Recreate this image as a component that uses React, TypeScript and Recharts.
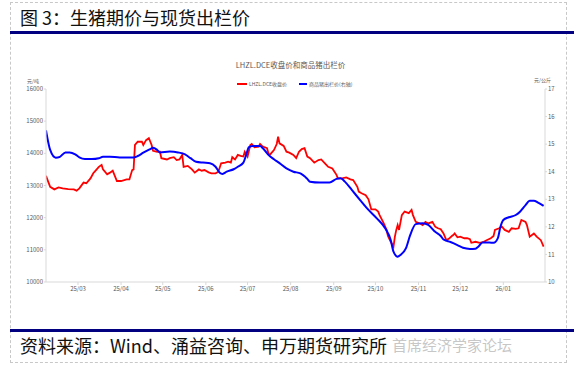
import { LineChart, Line, XAxis, YAxis } from 'recharts';

const FONT = '"Noto Sans CJK SC", "Noto Sans", sans-serif';

// LHZL.DCE close (yuan/ton)
const futDates = [
  '2025-02-06', '2025-02-09', '2025-02-12', '2025-02-15', '2025-02-18', '2025-02-22', '2025-02-26', '2025-02-28',
  '2025-03-02', '2025-03-05', '2025-03-07', '2025-03-10', '2025-03-12', '2025-03-14', '2025-03-16', '2025-03-18',
  '2025-03-19', '2025-03-22', '2025-03-24', '2025-03-26', '2025-03-29', '2025-04-01', '2025-04-05', '2025-04-07',
  '2025-04-09', '2025-04-10', '2025-04-11', '2025-04-13', '2025-04-16', '2025-04-17', '2025-04-19', '2025-04-21',
  '2025-04-23', '2025-04-24', '2025-04-27', '2025-04-29', '2025-04-30', '2025-05-04', '2025-05-06', '2025-05-09',
  '2025-05-11', '2025-05-13', '2025-05-15', '2025-05-16', '2025-05-19', '2025-05-22', '2025-05-24', '2025-05-27',
  '2025-05-29', '2025-05-31', '2025-06-03', '2025-06-05', '2025-06-08', '2025-06-10', '2025-06-12', '2025-06-15',
  '2025-06-17', '2025-06-19', '2025-06-20', '2025-06-22', '2025-06-24', '2025-06-26', '2025-06-28', '2025-06-29',
  '2025-07-01', '2025-07-03', '2025-07-04', '2025-07-06', '2025-07-09', '2025-07-10', '2025-07-12', '2025-07-15',
  '2025-07-16', '2025-07-17', '2025-07-20', '2025-07-22', '2025-07-23', '2025-07-24', '2025-07-27', '2025-07-29',
  '2025-07-31', '2025-08-03', '2025-08-05', '2025-08-07', '2025-08-09', '2025-08-11', '2025-08-13', '2025-08-15',
  '2025-08-18', '2025-08-21', '2025-08-23', '2025-08-26', '2025-08-28', '2025-08-31', '2025-09-03', '2025-09-04',
  '2025-09-07', '2025-09-10', '2025-09-13', '2025-09-15', '2025-09-18', '2025-09-19', '2025-09-21', '2025-09-24',
  '2025-09-26', '2025-09-28', '2025-10-01', '2025-10-03', '2025-10-04', '2025-10-07', '2025-10-09', '2025-10-10',
  '2025-10-12', '2025-10-14', '2025-10-15', '2025-10-16', '2025-10-17', '2025-10-18', '2025-10-20', '2025-10-22',
  '2025-10-25', '2025-10-27', '2025-10-28', '2025-10-30', '2025-11-02', '2025-11-04', '2025-11-06', '2025-11-08',
  '2025-11-11', '2025-11-13', '2025-11-15', '2025-11-17', '2025-11-19', '2025-11-21', '2025-11-23', '2025-11-25',
  '2025-11-26', '2025-11-27', '2025-11-29', '2025-12-01', '2025-12-04', '2025-12-06', '2025-12-08', '2025-12-09',
  '2025-12-12', '2025-12-15', '2025-12-18', '2025-12-20', '2025-12-23', '2025-12-25', '2025-12-26', '2025-12-29',
  '2025-12-31', '2026-01-02', '2026-01-05', '2026-01-07', '2026-01-10', '2026-01-12', '2026-01-14', '2026-01-17',
  '2026-01-18', '2026-01-20', '2026-01-23', '2026-01-25', '2026-01-28', '2026-01-30',
];
const futValues = [
  13300, 12960, 12880, 12940, 12910, 12890, 12880, 12840,
  12910, 13090, 13070, 13220, 13380, 13480, 13580, 13640,
  13500, 13350, 13400, 13460, 13140, 13140, 13190, 13190,
  13480, 13500, 14260, 14360, 14360, 14260, 14410, 14470,
  14260, 14080, 14050, 14050, 13850, 13810, 13850, 13880,
  13790, 13810, 13950, 13580, 13610, 13500, 13400, 13500,
  13460, 13480, 13410, 13380, 13380, 13430, 13690, 13710,
  13740, 13710, 13880, 13810, 13950, 13920, 13900, 14050,
  13900, 14260, 14290, 14190, 14210, 14290, 14210, 14160,
  14000, 13950, 14100, 14290, 14520, 14310, 14230, 14050,
  14020, 13950, 13850, 14050, 14130, 14160, 13900, 13850,
  13710, 13790, 13810, 13670, 13580, 13530, 13330, 13220,
  13220, 13250, 13190, 13170, 12960, 12810, 12760, 12700,
  12570, 12260, 12260, 12190, 12080, 11820, 11620, 11430,
  11250, 11100, 11410, 11620, 11770, 11620, 12080, 12190,
  12140, 12240, 12080, 11870, 11820, 11770, 11870, 11820,
  11870, 11720, 11670, 11640, 11510, 11300, 11350, 11430,
  11460, 11510, 11390, 11410, 11360, 11360, 11330, 11220,
  11250, 11220, 11250, 11300, 11360, 11430, 11620, 11670,
  11720, 11620, 11560, 11670, 11650, 11670, 11930, 11870,
  11770, 11410, 11510, 11410, 11300, 11100,
];

// commodity hog price (yuan/kg, right axis)
const hogDates = [
  '2025-02-06', '2025-02-09', '2025-02-13', '2025-02-16', '2025-02-20', '2025-02-23', '2025-02-27', '2025-03-02',
  '2025-03-06', '2025-03-11', '2025-03-16', '2025-03-19', '2025-03-24', '2025-03-31', '2025-04-05', '2025-04-10',
  '2025-04-13', '2025-04-17', '2025-04-22', '2025-04-24', '2025-04-27', '2025-04-29', '2025-05-06', '2025-05-12',
  '2025-05-17', '2025-05-21', '2025-05-25', '2025-05-30', '2025-06-04', '2025-06-08', '2025-06-11', '2025-06-13',
  '2025-06-16', '2025-06-21', '2025-06-24', '2025-06-28', '2025-06-30', '2025-07-02', '2025-07-05', '2025-07-10',
  '2025-07-12', '2025-07-16', '2025-07-20', '2025-07-24', '2025-07-29', '2025-08-03', '2025-08-08', '2025-08-13',
  '2025-08-15', '2025-08-22', '2025-08-29', '2025-09-03', '2025-09-06', '2025-09-09', '2025-09-14', '2025-09-20',
  '2025-09-25', '2025-10-02', '2025-10-08', '2025-10-12', '2025-10-14', '2025-10-17', '2025-10-19', '2025-10-23',
  '2025-10-26', '2025-10-30', '2025-11-04', '2025-11-08', '2025-11-13', '2025-11-17', '2025-11-19', '2025-11-24',
  '2025-11-29', '2025-12-03', '2025-12-08', '2025-12-12', '2025-12-14', '2025-12-17', '2025-12-22', '2025-12-25',
  '2025-12-28', '2025-12-30', '2026-01-01', '2026-01-05', '2026-01-10', '2026-01-13', '2026-01-17', '2026-01-20',
  '2026-01-23', '2026-01-26', '2026-01-30',
];
const hogValues = [
  15.5, 14.79, 14.51, 14.54, 14.7, 14.7, 14.63, 14.52,
  14.46, 14.46, 14.49, 14.54, 14.54, 14.52, 14.52, 14.52,
  14.57, 14.69, 14.82, 14.87, 14.79, 14.7, 14.73, 14.7,
  14.63, 14.49, 14.36, 14.33, 14.31, 14.18, 13.96, 13.92,
  14.0, 14.09, 14.18, 14.33, 14.61, 14.89, 14.93, 14.93,
  14.85, 14.61, 14.45, 14.31, 14.12, 14.0, 13.94, 13.74,
  13.64, 13.61, 13.61, 13.74, 13.76, 13.64, 13.34, 12.97,
  12.67, 12.31, 11.95, 11.52, 11.1, 10.92, 10.98, 11.23,
  11.7, 12.1, 12.13, 12.07, 11.82, 11.67, 11.54, 11.45,
  11.34, 11.24, 11.2, 11.21, 11.28, 11.43, 11.43, 11.42,
  11.58, 12.01, 12.25, 12.35, 12.43, 12.55, 12.79, 12.95,
  12.95, 12.88, 12.76,
];

const monthLabels = ['25/03', '25/04', '25/05', '25/06', '25/07', '25/08', '25/09', '25/10', '25/11', '25/12', '26/01'];
const leftTicks = [10000, 11000, 12000, 13000, 14000, 15000, 16000];
const rightTicks = [10, 11, 12, 13, 14, 15, 16, 17];

const BASE = Date.UTC(2025, 0, 1);
const toDay = (s: string) => {
  const [y, m, d] = s.split('-').map(Number);
  return (Date.UTC(y, m - 1, d) - BASE) / 86400000;
};
const monthDays = monthLabels.map((l) => {
  const [yy, mm] = l.split('/').map(Number);
  return (Date.UTC(2000 + yy, mm - 1, 1) - BASE) / 86400000;
});

const futData = futDates.map((d, i) => ({ t: toDay(d), v: futValues[i] }));
const hogData = hogDates.map((d, i) => ({ t: toDay(d), v: hogValues[i] }));

const tickStyle = { fill: '#595959', fontSize: 6, fontFamily: FONT };

export default function App() {
  return (
    <div style={{ position: 'absolute', left: 0, top: 0, width: 577, height: 365, background: '#fff', fontFamily: FONT }}>
      <div style={{ position: 'absolute', left: 10, top: 2, width: 555, height: 359, border: '1px dashed #c8c8c8' }} />
      <div style={{ position: 'absolute', left: 20, top: 5, fontSize: 18, lineHeight: '24px', color: '#111', fontWeight: 400, whiteSpace: 'nowrap' }}>
        图 3：生猪期价与现货出栏价
      </div>
      <div style={{ position: 'absolute', left: 10, top: 31, width: 564, height: 3, background: '#000080' }} />

      <div style={{ position: 'absolute', left: 0, top: 0 }}>
        <LineChart width={577} height={365} margin={{ top: 89, right: 0, bottom: 63, left: 0 }}>
          <XAxis
            dataKey="t"
            type="number"
            domain={[36, 395]}
            ticks={monthDays}
            tickFormatter={(v: number) => monthLabels[monthDays.indexOf(v)]}
            allowDataOverflow
            height={20}
            axisLine={{ stroke: '#d9d9d9' }}
            tickLine={{ stroke: '#d9d9d9' }}
            tickSize={3}
            tickMargin={2}
            tick={tickStyle}
          />
          <YAxis
            yAxisId="left"
            width={46}
            domain={[10000, 16000]}
            ticks={leftTicks}
            allowDataOverflow
            axisLine={{ stroke: '#d9d9d9' }}
            tickLine={{ stroke: '#d9d9d9' }}
            tickSize={2}
            tickMargin={1}
            tick={tickStyle}
          />
          <YAxis
            yAxisId="right"
            orientation="right"
            width={32}
            domain={[10, 17]}
            ticks={rightTicks}
            allowDataOverflow
            axisLine={{ stroke: '#d9d9d9' }}
            tickLine={{ stroke: '#d9d9d9' }}
            tickSize={2}
            tickMargin={1}
            tick={tickStyle}
          />
          <Line
            yAxisId="left"
            data={futData}
            dataKey="v"
            type="linear"
            stroke="#ff0000"
            strokeWidth={1.8}
            dot={false}
            isAnimationActive={false}
          />
          <Line
            yAxisId="right"
            data={hogData}
            dataKey="v"
            type="monotone"
            stroke="#0000ff"
            strokeWidth={2}
            dot={false}
            isAnimationActive={false}
          />
        </LineChart>
      </div>

      <div style={{ position: 'absolute', left: 0, width: 577, top: 59, textAlign: 'center', fontSize: 7.5, color: '#595959', lineHeight: '12px' }}>
        <span style={{ marginLeft: 4 }}>LHZL.DCE收盘价和商品猪出栏价</span>
      </div>
      <div style={{ position: 'absolute', left: 237, top: 80, fontSize: 5, color: '#595959', display: 'flex', alignItems: 'center', whiteSpace: 'nowrap', lineHeight: '8px' }}>
        <span style={{ display: 'inline-block', width: 10, height: 2, background: '#ff0000', marginRight: 2 }} />
        <span>LHZL.DCE收盘价</span>
        <span style={{ display: 'inline-block', width: 8, height: 2, background: '#0000ff', marginLeft: 12, marginRight: 2 }} />
        <span>商品猪出栏价(右轴)</span>
      </div>
      <div style={{ position: 'absolute', left: 27, top: 77, fontSize: 5, color: '#595959', lineHeight: '7px' }}>元/吨</div>
      <div style={{ position: 'absolute', left: 534, top: 76, fontSize: 5, color: '#595959', lineHeight: '7px' }}>元/公斤</div>

      <div style={{ position: 'absolute', left: 10, top: 329, width: 564, height: 3, background: '#000080' }} />
      <div style={{ position: 'absolute', left: 392, top: 334, fontSize: 15, lineHeight: '22px', color: 'rgba(150,150,150,0.55)', whiteSpace: 'nowrap' }}>
        首席经济学家论坛
      </div>
      <div style={{ position: 'absolute', left: 20, top: 333, fontSize: 18, lineHeight: '24px', color: '#111', fontWeight: 400, whiteSpace: 'nowrap' }}>
        资料来源：Wind、涌益咨询、申万期货研究所
      </div>
    </div>
  );
}
